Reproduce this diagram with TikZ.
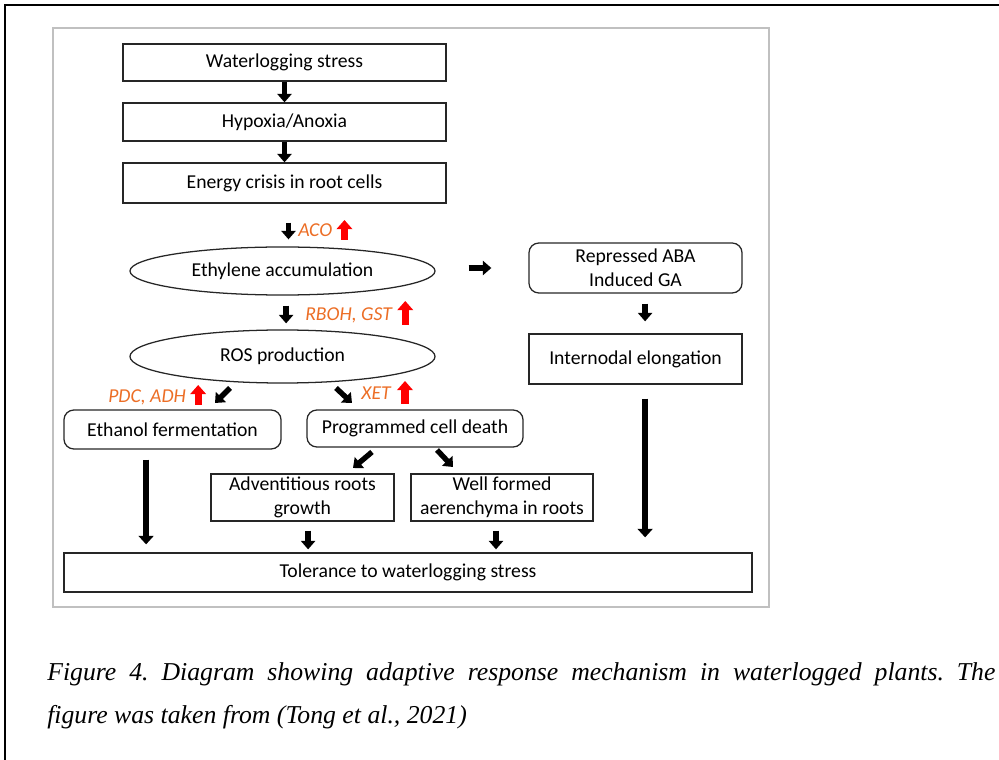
\documentclass[tikz,border=0pt]{standalone}
\usepackage{fontspec}
\setmainfont{Carlito}
\newfontfamily\capfont{Liberation Serif}
\usetikzlibrary{arrows.meta}
\usetikzlibrary{shapes.geometric}
\definecolor{geneorange}{RGB}{236,110,38}
\definecolor{framegray}{RGB}{192,192,192}
\frenchspacing

\tikzset{
  box/.style={rectangle, draw=black!85, line width=0.9pt, inner sep=0pt,
     align=center, font=\fontsize{14}{17}\selectfont},
  rbox/.style={box, rounded corners=7pt},
  oval/.style={ellipse, draw=black!85, line width=0.9pt, inner sep=0pt,
     minimum width=7.625cm, font=\fontsize{14}{17}\selectfont},
  gene/.style={text=geneorange, inner sep=0pt, anchor=west,
     font=\fontsize{14}{17}\selectfont\itshape},
  blk/.style={line width=3.8pt, -{Triangle[width=10pt,length=6pt]}},
  longblk/.style={line width=4.2pt, -{Triangle[width=10.5pt,length=6pt]}},
  redup/.style={red, line width=5pt, -{Triangle[width=11pt,length=6.5pt]}},
  capt/.style={inner sep=0pt, font=\capfont\itshape\fontsize{18.3}{22}\selectfont}
}

\begin{document}
\begin{tikzpicture}[x=0.025cm, y=-0.025cm]
   \useasboundingbox (0,0) rectangle (999,760);

   \draw [line width=1.5pt] (5,760) -- (5,5) -- (999,5);
   \draw [framegray, line width=1.1pt] (53,28) rectangle (769,607);

   \node (ws) at (284.5,62.5) [box, minimum width=8.075cm, minimum height=0.925cm]
      {Waterlogging stress};
   \node (hy) at (284.5,122) [box, minimum width=8.075cm, minimum height=0.95cm]
      {Hypoxia/Anoxia};
   \node (en) at (284.5,183) [box, minimum width=8.075cm, minimum height=1cm]
      {Energy crisis in root cells};
   \node (eth) at (282.5,271) [oval, minimum height=1.2cm] {Ethylene accumulation};
   \node (ros) at (282.5,356.5) [oval, minimum height=1.325cm] {ROS production};
   \node (aba) at (635.5,268) [rbox, minimum width=5.325cm, minimum height=1.25cm]
      {Repressed ABA\\Induced GA};
   \node (int) at (635.5,359) [box, minimum width=5.325cm, minimum height=1.25cm]
      {Internodal elongation};
   \node (ef) at (172.5,429.5) [rbox, minimum width=5.425cm, minimum height=0.975cm]
      {Ethanol fermentation};
   \node (pcd) at (415,428.5) [rbox, minimum width=5.4cm, minimum height=0.925cm]
      {Programmed cell death};
   \node (adv) at (302.5,497.5) [box, minimum width=4.575cm, minimum height=1.175cm]
      {Adventitious roots\\growth};
   \node (wfa) at (502,497.5) [box, minimum width=4.55cm, minimum height=1.175cm]
      {Well formed\\aerenchyma in roots};
   \node (tol) at (408,572.5) [box, minimum width=17.2cm, minimum height=0.975cm]
      {Tolerance to waterlogging stress};

   \node (aco) at (298,230) [gene] {ACO};
   \node (rboh) at (305,315) [gene] {RBOH, GST};
   \node (xet) at (361,393) [gene] {XET};
   \node (pdc) at (108,397) [gene] {PDC, ADH};
   \draw [redup] ([shift={(12,10)}]aco.east) -- ++(0,-20);
   \draw [redup] ([shift={(13,10)}]rboh.east) -- ++(0,-24);
   \draw [redup] ([shift={(14,11)}]xet.east) -- ++(0,-23);
   \draw [redup] ([shift={(12,8)}]pdc.east) -- ++(0,-20);

   \coordinate (d1s) at (230,388);
   \coordinate (d1e) at (215,403);
   \coordinate (d2s) at (336,388);
   \coordinate (d2e) at (352,403);
   \coordinate (d3s) at (372,452);
   \coordinate (d3e) at (353,468);
   \coordinate (d4s) at (437,450);
   \coordinate (d4e) at (453,467);

   \draw [blk] (ws) -- (hy);
   \draw [blk] (hy) -- (en);
   \draw [blk, shorten <=0.475cm, shorten >=0.175cm]
      ([xshift=1mm]en.south) -- ([xshift=1mm]en.south |- eth.north);
   \draw [blk, shorten <=0.25cm, shorten >=0.15cm]
      ([xshift=0.9mm]eth.south) -- ([xshift=0.9mm]eth.south |- ros.north);
   \draw [blk, shorten <=0.825cm, shorten >=0.925cm] (eth.east |- aba.west) -- (aba.west);
   \draw [blk, shorten <=0.25cm, shorten >=0.3cm]
      ([xshift=2.4mm]aba.south) -- ([xshift=2.4mm]int.north);
   \draw [longblk, shorten <=0.35cm, shorten >=0.375cm]
      ([xshift=2.4mm]int.south) -- ([xshift=2.4mm]int.south |- tol.north);
   \draw [blk] (d1s) -- (d1e);
   \draw [blk] (d2s) -- (d2e);
   \draw [blk] (d3s) -- (d3e);
   \draw [blk] (d4s) -- (d4e);
   \draw [longblk, shorten <=0.25cm, shorten >=0.2cm]
      ([xshift=-6.6mm]ef.south) -- ([xshift=-6.6mm]ef.south |- tol.north);
   \draw [blk, shorten <=0.225cm, shorten >=0.075cm]
      ([xshift=1.4mm]adv.south) -- ([xshift=1.4mm]adv.south |- tol.north);
   \draw [blk, shorten <=0.225cm, shorten >=0.075cm]
      ([xshift=-1.5mm]wfa.south) -- ([xshift=-1.5mm]wfa.south |- tol.north);

   \node (cap1) at (47,680) [capt, anchor=base west]
      {\makebox[23.7cm][s]{Figure 4. Diagram showing adaptive response mechanism in waterlogged plants. The}};
   \node (cap2) at (47,723) [capt, anchor=base west]
      {figure was taken from (Tong et al., 2021)};
\end{tikzpicture}
\end{document}
